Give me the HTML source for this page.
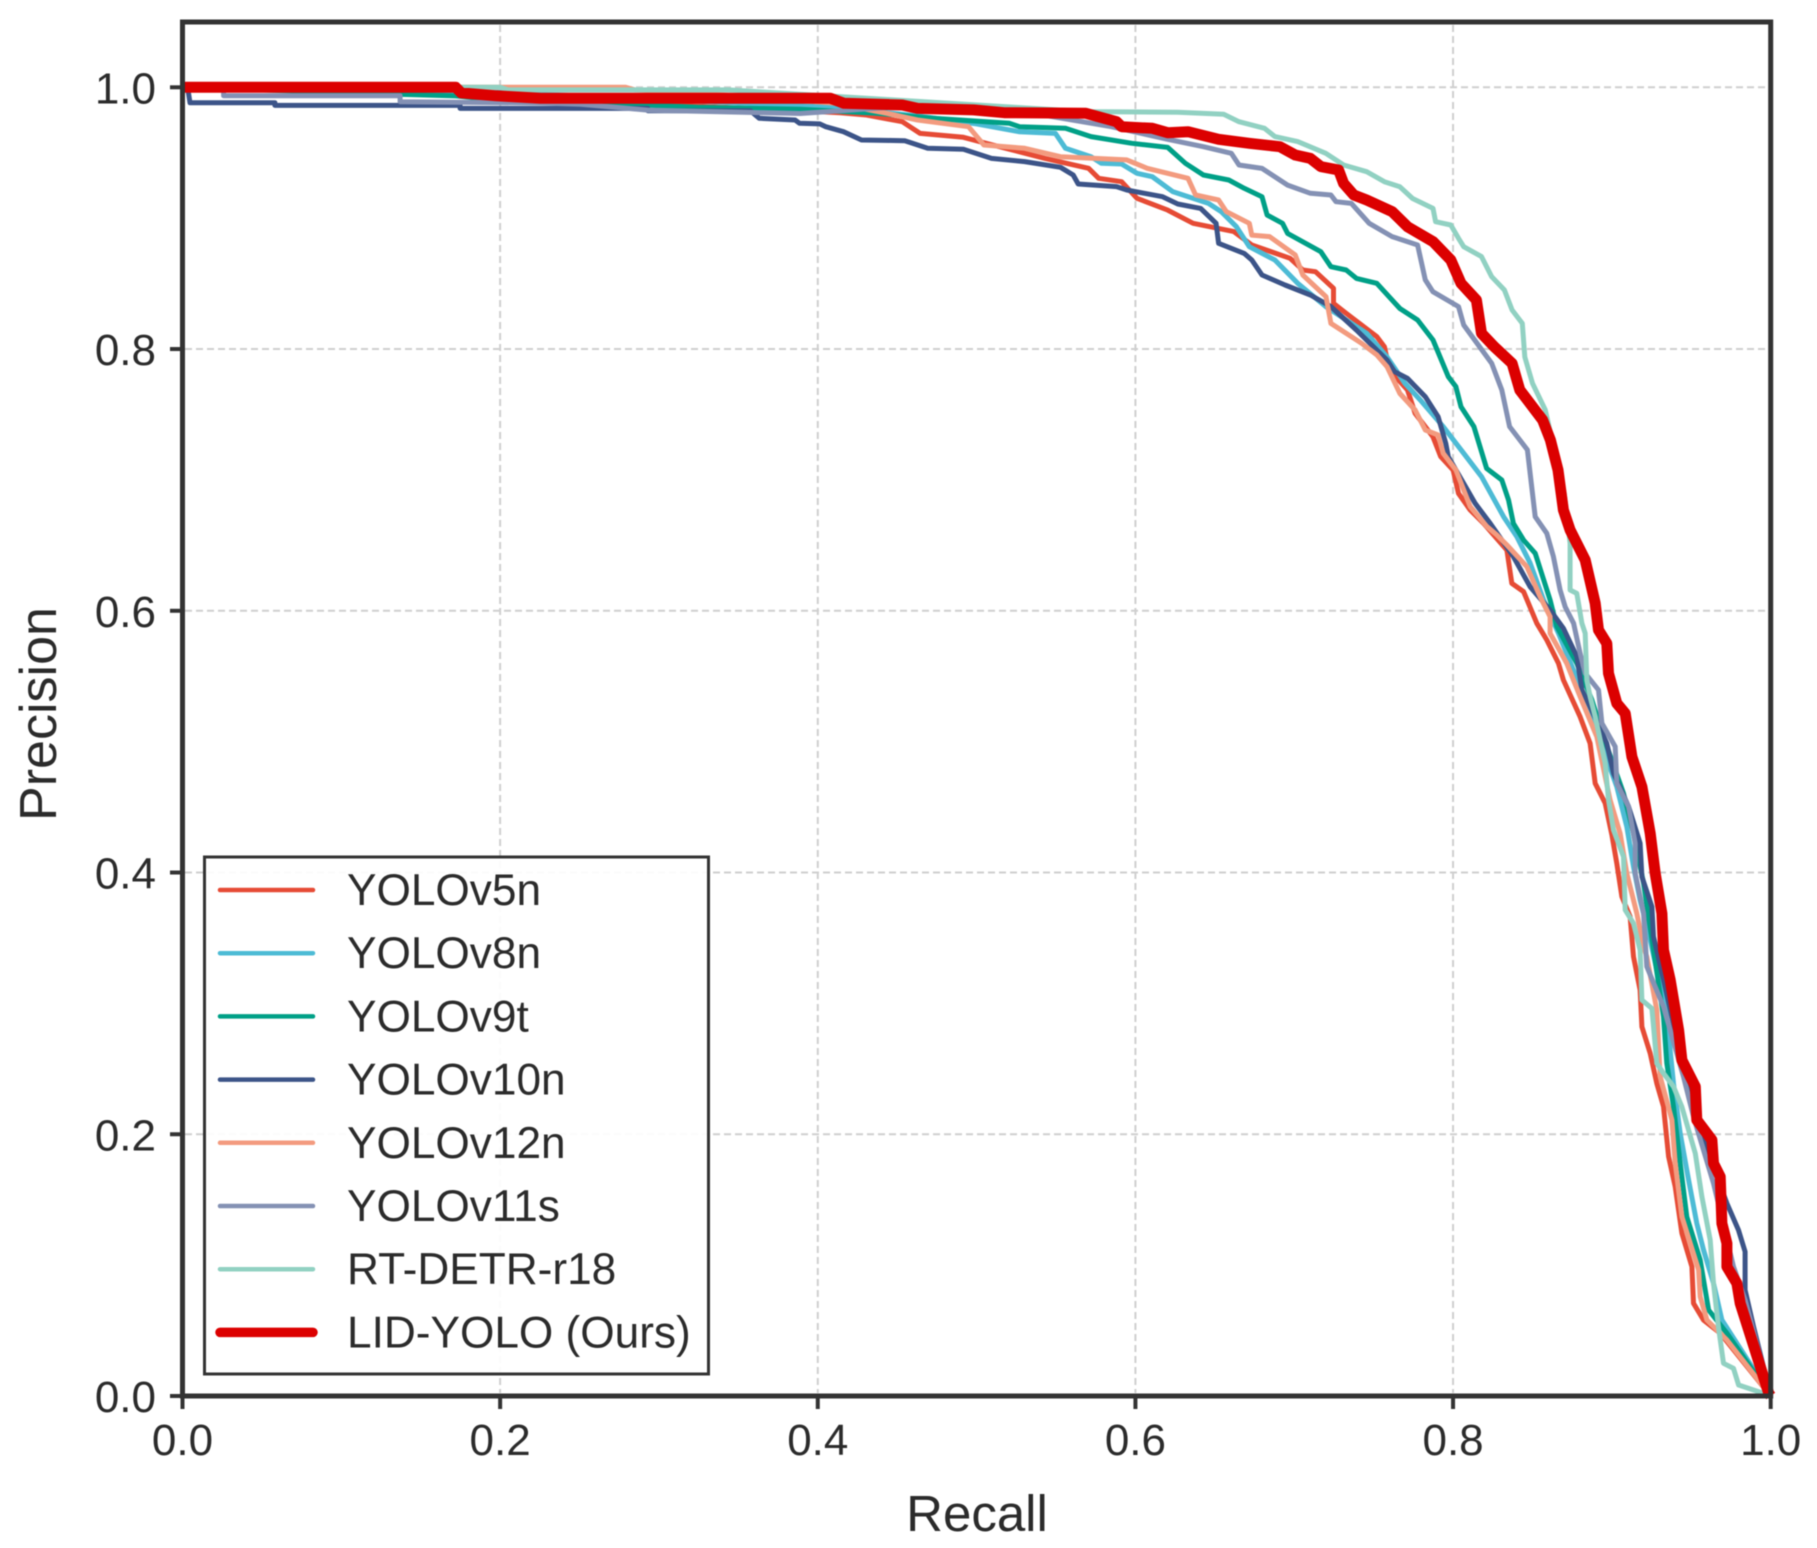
<!DOCTYPE html>
<html lang="en">
<head>
<meta charset="utf-8">
<title>Precision-Recall Curves</title>
<style>
html,body{margin:0;padding:0;background:#fff;}
svg{display:block;filter:blur(0.5px);}
text{font-family:"Liberation Sans",Arial,sans-serif;fill:#2b2b2b;}
</style>
</head>
<body>
<svg id="chart" xmlns="http://www.w3.org/2000/svg" width="1817" height="1548" viewBox="0 0 1817 1548">
  <rect x="0" y="0" width="1817" height="1548" fill="#fff"/>
  <g id="grid"></g>
  <g id="series"></g>
  <rect x="182.5" y="22" width="1588.2" height="1374" fill="none" stroke="#333" stroke-width="5"/>
  <g id="ticks"></g>
  <text x="977" y="1531" font-size="51" text-anchor="middle">Recall</text>
  <text transform="translate(56,714) rotate(-90)" font-size="52" text-anchor="middle">Precision</text>
  <g id="legend">
    <rect x="204.5" y="857" width="504" height="517" fill="#fff" fill-opacity="0.92" stroke="#333" stroke-width="3"/>
  </g>
</svg>
<script>
const xTicks = [0, 0.2, 0.4, 0.6, 0.8, 1.0];
const yTicks = [0, 0.2, 0.4, 0.6, 0.8, 1.0];
const xTickLabels = ['0.0', '0.2', '0.4', '0.6', '0.8', '1.0'];
const yTickLabels = ['0.0', '0.2', '0.4', '0.6', '0.8', '1.0'];

const seriesNames = ['YOLOv5n', 'YOLOv8n', 'YOLOv9t', 'YOLOv10n', 'YOLOv12n', 'YOLOv11s', 'RT-DETR-r18', 'LID-YOLO (Ours)'];
const seriesColors = ['#E64B35', '#4DBBD5', '#00A087', '#3C5488', '#F39B7F', '#8491B4', '#91D1C2', '#DC0000'];

const recallV5n = [0,.2,.296,.324,.39,.414,.4307,.4532,.4644,.4917,.506,.5431,.5705,.5769,.5913,.601,.6203,.6363,.662,.6733,.6974,.7054,.7134,.7247,.7247,.7327,.752,.7568,.76,.7713,.7761,.7873,.7922,.8,.8034,.8108,.8192,.8339,.837,.8444,.8527,.859,.8664,.8695,.88,.8863,.8895,.8958,.9,.9031,.9063,.9115,.9136,.9178,.9189,.9241,.9283,.9325,.9357,.9399,.9441,.9504,.9514,.9577,.9682,1];
const precisionV5n = [1,.996,.987,.9855,.982,.9806,.9788,.9737,.9648,.9618,.9572,.9457,.9381,.9305,.9279,.9152,.9062,.8961,.8897,.8795,.8693,.8604,.8591,.8464,.8349,.8273,.8095,.8018,.784,.7687,.7509,.733,.7178,.7076,.6897,.677,.6668,.6464,.621,.6146,.5904,.5777,.5598,.5471,.5191,.4987,.4681,.4529,.4287,.407,.3815,.3663,.3357,.3102,.2822,.2618,.2389,.2211,.1829,.16,.1243,.0988,.0708,.0581,.048,0];

const recallV8n = [0,.2,.35,.42,.47,.5,.5271,.5496,.556,.572,.5785,.5913,.601,.6106,.6235,.646,.654,.6636,.6717,.6878,.7022,.7199,.7456,.7584,.7697,.7793,.7938,.8067,.8179,.8318,.8402,.8486,.857,.8664,.8758,.8842,.8947,.9031,.9094,.9136,.9178,.9241,.9283,.9346,.9388,.943,.9483,.9535,.9577,.964,.9693,1];
const precisionV8n = [1,.996,.988,.984,.977,.972,.966,.9648,.9534,.947,.9419,.9414,.9343,.9317,.9203,.9113,.905,.8935,.8782,.868,.8502,.8324,.812,.794,.7738,.7611,.7407,.7203,.7025,.6719,.6566,.6363,.6082,.5828,.5548,.5267,.4936,.4656,.4351,.4045,.379,.3484,.3255,.2899,.2389,.2007,.165,.132,.1116,.0861,.0581,0];

const recallV9t = [0,.11,.172,.2,.3,.324,.3889,.4371,.4724,.5206,.5271,.556,.572,.5978,.6203,.6315,.6428,.6588,.6685,.6797,.6829,.6926,.6958,.7167,.7231,.7327,.7392,.752,.7665,.7777,.7874,.797,.8018,.805,.8131,.8211,.8307,.8349,.838,.8444,.8517,.8611,.8653,.878,.8874,.8947,.9073,.9136,.92,.9262,.9325,.9346,.9388,.943,.9472,.9556,.9609,.9724,1];
const precisionV9t = [1,.9955,.9934,.99,.986,.9847,.9832,.9801,.9763,.9725,.9699,.9687,.9623,.9572,.9541,.9419,.933,.9292,.9228,.9164,.9024,.8961,.8884,.8744,.8629,.8604,.854,.8502,.831,.8222,.8069,.7789,.7712,.7559,.7407,.7088,.6999,.6847,.6668,.654,.6439,.6082,.5879,.5598,.5318,.5038,.4605,.43,.3917,.3408,.2899,.2542,.2211,.1778,.137,.1039,.0657,.048,0];

const recallV10n = [0,.0032,.0047,.0582,.0582,.1748,.1748,.293,.293,.3575,.3632,.3857,.3885,.4012,.405,.4162,.4275,.4548,.4692,.4917,.5094,.5303,.5528,.5608,.564,.5881,.5946,.6171,.6267,.6411,.6508,.6524,.6685,.6733,.6797,.6942,.7102,.7231,.7392,.7584,.7632,.7713,.7825,.7906,.7954,.797,.8139,.8234,.838,.8485,.8611,.8695,.878,.8811,.8863,.8968,.901,.9105,.9178,.9189,.9252,.9262,.9325,.9472,.964,.9724,.9797,.9839,.9839,.9892,1];
const precisionV10n = [1,1,.9882,.9882,.9862,.9862,.9839,.9839,.9821,.9821,.9763,.975,.9725,.972,.9699,.9661,.9597,.9592,.9534,.9526,.9457,.9432,.9389,.933,.9261,.9241,.9215,.9164,.9108,.9075,.8961,.8808,.8731,.868,.8566,.8489,.8413,.8324,.8145,.7916,.7827,.7776,.7636,.7483,.7279,.7177,.6821,.6668,.6414,.6184,.6006,.5866,.5649,.5395,.5267,.4987,.4758,.4503,.4223,.3968,.3739,.351,.318,.239,.1752,.1472,.1268,.1103,.081,.053,0];

const recallV12n = [0,.279,.285,.33,.41,.4435,.4628,.4949,.5046,.5303,.5528,.5946,.6074,.6331,.6379,.6524,.6572,.6717,.6733,.6845,.7006,.7054,.72,.7231,.7424,.752,.7584,.7665,.7761,.7825,.7906,.7938,.8018,.8108,.8213,.8276,.8339,.8465,.8548,.8611,.8611,.8716,.88,.8905,.8989,.9052,.9094,.9157,.92,.922,.9283,.9304,.9378,.9399,.9441,.9546,.9556,.9598,.9724,1];
const precisionV12n = [1,1,.998,.995,.988,.9801,.975,.9699,.9559,.9534,.947,.9445,.9381,.9305,.9177,.9139,.905,.8961,.8871,.8859,.8719,.8566,.84,.8196,.8044,.7955,.7866,.766,.7534,.7381,.7343,.7203,.7076,.6796,.6643,.6579,.6503,.6337,.6108,.5955,.5828,.5598,.5344,.5038,.4554,.43,.3994,.3688,.3433,.3357,.295,.244,.2109,.1778,.137,.0963,.0759,.0581,.0428,0];

const recallV11s = [0,.0259,.0259,.137,.137,.2254,.2508,.293,.3889,.45,.5174,.5849,.6203,.6428,.6604,.6652,.6797,.6958,.7102,.7231,.7263,.736,.7472,.7616,.7777,.7825,.7873,.8034,.8067,.8243,.8307,.8356,.8468,.8517,.859,.8632,.8674,.8706,.8759,.88,.8832,.8916,.8937,.9021,.9031,.9105,.9147,.9147,.92,.922,.9325,.9451,.9514,.964,.9766,.9839,1];
const precisionV11s = [1,1,.9936,.9936,.989,.988,.987,.9826,.98,.985,.9839,.9699,.9603,.9546,.9496,.9406,.938,.9253,.919,.9177,.9126,.9113,.8961,.8859,.8795,.8528,.8438,.8324,.8184,.789,.7687,.7407,.7229,.6719,.6592,.6414,.6159,.603,.5904,.5675,.5522,.5395,.514,.4962,.4681,.4503,.4223,.3994,.3688,.3281,.2975,.244,.2134,.1625,.0988,.0734,0];

const recallRt = [0,.2,.205,.245,.3436,.5688,.6267,.6556,.6652,.6813,.6878,.7022,.7199,.7311,.7456,.7568,.7665,.7745,.7874,.789,.7986,.8034,.8067,.8179,.8243,.8323,.8372,.8436,.8452,.85,.8581,.87,.8737,.8737,.8779,.8811,.8832,.8842,.8863,.8895,.8958,.8979,.901,.9073,.9084,.9136,.9178,.9189,.9252,.9283,.9325,.9388,.944,.9525,.9567,.9619,.964,.9671,.9703,.9766,.9798,.9955,1];
const precisionRt = [1,1,.998,.998,.998,.9814,.9809,.9794,.9737,.9687,.9623,.9585,.9496,.9406,.9355,.9279,.924,.915,.9075,.8973,.8948,.8846,.8782,.8706,.8553,.8451,.8298,.8196,.794,.7738,.7534,.69,.6515,.6159,.6133,.5904,.5828,.547,.5344,.5191,.4834,.4554,.4325,.412,.3714,.3612,.3408,.3026,.2962,.2542,.2466,.2364,.2211,.1854,.1523,.1192,.0861,.053,.025,.0211,.0084,.002,0];

const recallLid = [0,.172,.1755,.1975,.2254,.408,.4166,.4532,.4628,.4981,.5174,.5688,.5881,.5913,.6106,.6203,.6331,.6524,.6717,.691,.7006,.7102,.7167,.7279,.7311,.7375,.7456,.7616,.7713,.7874,.7986,.805,.8147,.8179,.8259,.8372,.842,.8564,.8613,.8661,.8695,.8737,.8832,.8895,.8916,.8968,.8979,.9031,.9084,.9126,.9189,.9241,.9273,.9315,.9325,.9367,.942,.9441,.9525,.9535,.963,.964,.9682,.9693,.9724,.9724,.9787,.9808,.9988,1];
const precisionLid = [1,1,.9957,.9935,.9916,.9916,.9878,.9865,.9839,.9827,.9806,.9801,.9737,.9699,.9687,.9653,.9661,.9603,.9572,.9546,.9483,.9457,.9394,.9368,.9266,.9177,.9139,.905,.8935,.8821,.868,.8502,.8375,.812,.8018,.789,.7687,.7458,.7305,.7076,.677,.6617,.6388,.6057,.5853,.5751,.5522,.5293,.5216,.4885,.4656,.43,.3994,.3688,.3408,.3179,.2797,.2567,.2364,.2109,.1956,.1778,.1676,.1319,.1167,.0988,.0861,.0708,.002,0];

const seriesRecall = [recallV5n, recallV8n, recallV9t, recallV10n, recallV12n, recallV11s, recallRt, recallLid];
const seriesPrecision = [precisionV5n, precisionV8n, precisionV9t, precisionV10n, precisionV12n, precisionV11s, precisionRt, precisionLid];

const svgNS = 'http://www.w3.org/2000/svg';
function xScale(v) { return 182.5 + v * 1588.2; }
function yScale(v) { return 1396 - v * 1308.7; }
function make(tag, parent, attrs) {
  const el = document.createElementNS(svgNS, tag);
  for (const k in attrs) el.setAttribute(k, attrs[k]);
  parent.appendChild(el);
  return el;
}
function slug(s) { return s.toLowerCase().replace(/[^a-z0-9]+/g, '-').replace(/-$/, ''); }

const gridG = document.getElementById('grid');
const ticksG = document.getElementById('ticks');
const seriesG = document.getElementById('series');
const legendG = document.getElementById('legend');

xTicks.forEach(function (v, i) {
  if (v > 0 && v < 1) {
    const g = make('line', gridG, {x1: xScale(v), x2: xScale(v), y1: 25, y2: 1393, stroke: '#cfcfcf', 'stroke-width': 2, 'stroke-dasharray': '7 4'});
    
    
  }
  const t = make('line', ticksG, {x1: xScale(v), x2: xScale(v), y1: 1396, y2: 1409, stroke: '#333', 'stroke-width': 4});
  
  
  const l = make('text', ticksG, {x: xScale(v), y: 1455, 'font-size': 44, 'text-anchor': 'middle'});
  l.textContent = xTickLabels[i];
  
  
});

yTicks.forEach(function (v, i) {
  if (v > 0) {
    const g = make('line', gridG, {x1: 185, x2: 1768, y1: yScale(v), y2: yScale(v), stroke: '#cfcfcf', 'stroke-width': 2, 'stroke-dasharray': '7 4'});
    
    
  }
  const t = make('line', ticksG, {x1: 170, x2: 182.5, y1: yScale(v), y2: yScale(v), stroke: '#333', 'stroke-width': 4});
  
  
  const l = make('text', ticksG, {x: 156, y: yScale(v) + 16, 'font-size': 44, 'text-anchor': 'end'});
  l.textContent = yTickLabels[i];
  
  
});

seriesNames.forEach(function (name, i) {
  const isOurs = i === seriesNames.length - 1;
  const pts = seriesRecall[i].map(function (r, j) {
    return xScale(r).toFixed(1) + ',' + yScale(seriesPrecision[i][j]).toFixed(1);
  }).join(' ');
  const line = make('polyline', seriesG, {points: pts, fill: 'none', stroke: seriesColors[i], 'stroke-width': isOurs ? 11 : 5, 'stroke-linejoin': 'round', 'stroke-linecap': 'butt'});
  
  

  const ly = 890 + i * 63.2;
  const swatch = make('line', legendG, {x1: 220, x2: 313, y1: ly, y2: ly, stroke: seriesColors[i], 'stroke-width': isOurs ? 9.5 : 4.5, 'stroke-linecap': 'round'});
  
  
  const lt = make('text', legendG, {x: 347, y: ly + 15, 'font-size': 44.2});
  lt.textContent = name;
  
  
});
</script>
</body>
</html>
